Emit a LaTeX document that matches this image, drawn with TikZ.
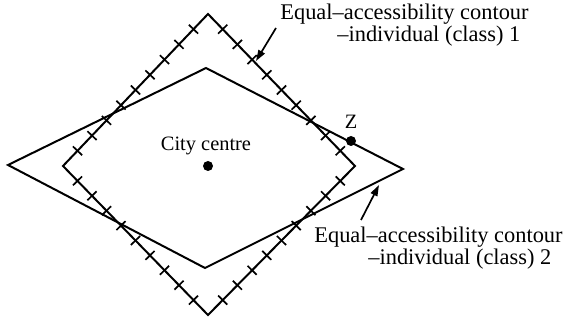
\documentclass[tikz,border=0pt]{standalone}
\usepackage{fontspec}
\setmainfont{Liberation Serif}
\usetikzlibrary{calc,arrows.meta}
\begin{document}
\begin{tikzpicture}[x=0.5pt,y=-0.5pt, line join=miter,
  contour/.style={draw, line width=1pt},
  tickmark/.style={line width=0.85pt},
  lbl/.style={font=\fontsize{11.2}{13}\selectfont, inner sep=0pt},
  small/.style={font=\fontsize{10.2}{12}\selectfont, inner sep=0pt},
  dot/.style={circle, fill, inner sep=0pt, minimum size=5pt},
  pointer/.style={-{Triangle[length=5.5pt,width=3.6pt]}, line width=0.85pt}]
\useasboundingbox (0,0) rectangle (569,320);
% tall contour (class 1)
\coordinate (T) at (208,14);
\coordinate (R) at (355,166);
\coordinate (B) at (208,315);
\coordinate (L) at (63,166);
% wide contour (class 2)
\coordinate (WL) at (8,165);
\coordinate (WT) at (206,68);
\coordinate (WR) at (403,169);
\coordinate (WB) at (205,268);
\draw[contour] (T) -- (R) -- (B) -- (L) -- cycle;
\draw[contour] (WL) -- (WT) -- (WR) -- (WB) -- cycle;
\foreach \a/\b in {L/T, T/R, B/R, L/B}{
  \foreach \t in {1,...,9}{
    \coordinate (p) at ($(\a)!{\t/10}!(\b)$);
    \draw[tickmark] ($(p)!3.2pt!90:(\b)$) -- ($(p)!3.2pt!-90:(\b)$);
  }
}
% points
\node[dot] (cc) at (208,166) {};
\node[dot] (z) at (351,141) {};
\node[small] (zl) at (351,122) {Z};
\node[small] (ccl) at (206,146) {City centre};
% labels
\node[lbl, anchor=base west] (l1a) at (280,20) {Equal--accessibility contour};
\node[lbl, anchor=base west] (l1b) at (337,42) {--individual (class) 1};
\node[lbl, anchor=base west] (l2a) at (314,243) {Equal--accessibility contour};
\node[lbl, anchor=base west] (l2b) at (368,265) {--individual (class) 2};
\coordinate (a1s) at (276,28);
\coordinate (a1e) at (256,61);
\coordinate (a2s) at (361,220);
\coordinate (a2e) at (379,185);
\draw[pointer] (a1s) -- (a1e);
\draw[pointer] (a2s) -- (a2e);
\end{tikzpicture}
\end{document}
